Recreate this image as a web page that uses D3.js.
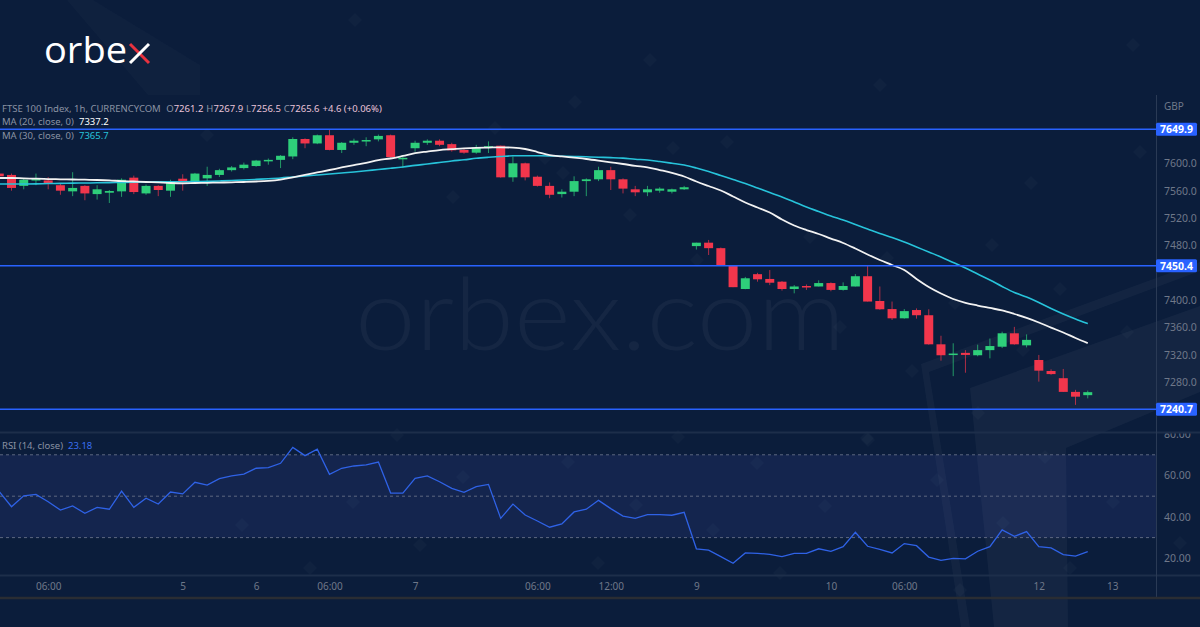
<!DOCTYPE html>
<html><head><meta charset="utf-8">
<script src="https://cdn.jsdelivr.net/npm/d3@7"></script>
<style>
html,body{margin:0;padding:0;background:#0b1d3b;}
svg{display:block;}
</style></head><body>
<svg id="c" width="1200" height="627"></svg>
<script>
// ---------- DATA ----------
const opens = [7585,7583,7567,7575,7575,7568,7559,7567,7555,7557,
7559,7579,7556,7567,7560,7577.5,7572,7578,7583,7590,
7593,7596,7603,7605,7610,7635.5,7629,7641,7619.5,7630,
7633,7635,7641,7607,7622,7630,7633,7628,7619.5,7615.5,
7623,7625.7,7579.5,7600,7580.4,7567,7555,7558.5,7574,7576.6,
7590,7576.6,7562,7557.6,7560,7558.5,7562,7479,7484,7476,
7450,7416.3,7438,7431,7427,7416.3,7420.7,7420,7425,7415,
7420,7435,7398.8,7387,7373.5,7385.6,7378,7335.5,7320,7323,
7319.5,7327,7332,7351.6,7334,7312.6,7296.5,7286,7266,7261.2];
const highs = [7587,7585,7578,7585,7580,7571,7587,7568,7568,7561,
7578,7582,7569,7568,7576,7584,7586,7595,7592,7596,
7601,7605,7607,7612,7638,7636.5,7642,7649,7631,7636,
7638,7642,7642,7610,7633,7635,7635,7630,7621,7627,
7632,7626,7610,7601,7582,7572,7562,7581,7578,7595,
7595,7578,7567,7567,7565,7563,7567,7484,7488,7477,
7451,7434,7440,7444,7428,7422,7423,7429,7426,7426,
7438,7450,7420,7398,7387,7388,7386.7,7348,7337,7327,
7335,7344,7354,7361,7350,7320,7299,7299.5,7269,7267.9];
const lows = [7578,7560,7562,7568,7562,7554,7552,7546,7547,7542,
7551,7555,7554,7552,7551,7560,7570,7567,7580,7588,
7591,7595,7598,7593,7606,7622,7628,7619,7615,7627,
7625,7632,7608,7593,7617,7627,7625,7617,7614,7614,
7615,7579,7573,7575,7566,7549,7550,7552,7552,7574,
7561,7556,7552,7552,7557,7556,7561,7474,7466,7451,
7419,7416,7427,7422,7414,7410,7415,7420,7413,7414,
7420,7398,7386,7371,7373,7373,7335,7311.6,7289,7294,
7318,7315,7330,7335,7331,7281,7291,7266,7247,7256.5];
const closes = [7581,7564,7576,7577,7570,7560,7564,7556,7562,7559.5,
7576,7558,7567,7561,7574,7572,7585,7583,7590,7594,
7598,7604,7605,7611,7635.5,7629,7641,7619.5,7630,7633,
7634,7640,7609,7608,7630,7633,7627,7619,7615.5,7623,
7625,7579.5,7600,7579.5,7567,7554,7558.5,7574,7576.6,7590,
7576.6,7563,7557.6,7562,7563,7562,7565,7484,7476,7451.4,
7419,7432,7430.5,7425.5,7416.3,7420,7419,7425,7415,7420.7,
7435,7398,7386.7,7373.5,7384,7378,7335.5,7319.5,7322,7320,
7327,7333,7351.6,7335.5,7342,7297,7292,7266,7259,7265.6];
const ma20 = [7578.5,7578.5,7578,7577.5,7577,7576.6,7576.3,7576,7575.6,7575,
7574,7573.4,7572.7,7572,7571.2,7570.8,7571.2,7571.5,7571.8,7572.2,
7572.7,7573.4,7574.4,7576.3,7579.5,7583,7586.6,7590.2,7593.9,7597.5,
7600.7,7604.8,7607,7610.7,7614.8,7617.2,7619.4,7620.6,7621.8,7622.6,
7623,7623.4,7622.9,7620.9,7616.5,7612,7610,7608.2,7606.3,7604,
7601.5,7599,7596.3,7594.2,7590.2,7586,7580.7,7573.4,7566.8,7560.3,
7551.5,7542.7,7535.4,7528.1,7517.9,7509.1,7502.5,7496.7,7490,7483.6,
7475.5,7466.8,7458.7,7451.4,7444,7431,7419.3,7409.8,7401.7,7396.2,
7392.2,7388.6,7385,7379.8,7374,7367.4,7360,7352.8,7344.7,7337.2];
const ma30 = [7569.8,7569.8,7569.8,7570,7570.4,7570.6,7571,7571.2,7571.5,7571.8,
7572,7572.4,7572.7,7573,7573.1,7573.1,7573.3,7573.6,7574.2,7574.9,
7575.6,7576.5,7577.4,7578.5,7580,7581.4,7582.9,7584.4,7585.8,7587.3,
7589,7591,7592.7,7594.6,7597,7599,7601.2,7603.4,7605.1,7607.3,
7608.8,7610,7611,7611.1,7611,7610.7,7610.4,7610,7609.5,7608.9,
7608.3,7607.5,7606,7604.8,7602.6,7600.1,7597.5,7593.1,7588,7582.2,
7576.3,7570.5,7563.9,7557.3,7550.8,7543.5,7536.1,7529.6,7523,7517.1,
7510.6,7504,7497.4,7491.6,7485,7477.7,7470.4,7463.1,7455,7447,
7438.2,7429.5,7420,7411.2,7404.6,7396.6,7387.8,7379.8,7372.5,7365.7];
const rsi = [52.2,44.9,50.2,50.9,47.3,43.3,45.3,41.7,44.6,43.7,
52.4,44.6,49,46.2,52,51.1,56.7,55.4,58.5,59.8,
60.7,63.5,63.8,65.9,73.6,69.6,72.7,60.6,63.5,64.6,
65.1,66.5,51.5,51.5,58.6,59.8,57,53.8,51.9,54.6,
55.7,39.3,46.2,40.9,38,35,36.6,42.4,43.7,48,
44,40.4,39.3,41.1,41.1,40.8,42.2,24.6,23.9,20.8,
17.6,22.6,22.4,21.9,20.8,22.4,22.4,24.6,23.4,25.6,
32.6,25.8,24.3,22.6,27.1,26.1,20.6,19,20,19.7,
23.4,25.6,33.7,30.6,32.9,25.6,25,21.8,21.1,23.18];
const timeTickIdx = [4,15,21,27,34,44,50,57,68,74,85,91];
const timeTickLabels = ["06:00","5","6","06:00","7","06:00","12:00","9","10","06:00","12","13"];
const priceTicks = [7600,7560,7520,7480,7400,7360,7320,7280];
const rsiTicks = [80,60,40,20];
const rsiLevels = [70,50,30];
const priceLines = [7649.9,7450.4,7240.7];

// ---------- LAYOUT ----------
const svg = d3.select('#c');
const AX = 1156;
const P_TOP = 95, P_BOT = 432.5, R_TOP = 433.5, R_BOT = 575.5, T_BOT = 597.5;
const x = d3.scaleLinear().domain([0,91]).range([-0.73,1112.2]);
const y = d3.scaleLinear().domain([7280,7600]).range([382.3,163.3]);
const yr = d3.scaleLinear().domain([20,80]).range([558.3,434.1]);

const GREEN = '#2ecf7a', RED = '#f2364c';
const FONT = '"Noto Sans", "Open Sans", sans-serif';

svg.append('rect').attr('width',1200).attr('height',627).attr('fill','#0b1d3b');

const deco = svg.append('g');
deco.append('polygon').attr('points','67,0 93,0 200,65 200,95 148,95').attr('fill','rgba(255,255,255,0.018)');
deco.append('polygon').attr('points','921,364 1200,262 1200,271 929,372 970,627 961,627').attr('fill','rgba(255,255,255,0.035)');
deco.append('polygon').attr('points','970,388 1200,306 1200,392 1066,448 1068,627 994,627').attr('fill','rgba(255,255,255,0.04)');
const diamonds = [[650,60],[880,85],[1133,45],[1140,152],[575,102],[727,142],[545,158],[1031,183],[355,20],
 [992,245],[1060,289],[955,303],[1127,332],[912,371],[868,440],[1045,457],[937,480],[1113,502],[1180,543],
 [1003,523],[1070,568],[960,590],[978,413],[397,435],[463,477],[353,502],[242,525],[420,545],[310,568],
 [678,437],[867,438],[568,462],[757,463],[636,505],[825,506],[713,530],[598,563],[780,573],[207,135],
 [495,128],[673,148],[563,173],[453,197],[630,215],[810,237],[887,258],[697,260],[840,327],[1023,350]];
deco.selectAll('rect.dm').data(diamonds).join('rect').attr('class','dm')
  .attr('x',-5).attr('y',-5).attr('width',10).attr('height',10)
  .attr('transform',d=>`translate(${d[0]},${d[1]}) rotate(45)`)
  .attr('fill','rgba(255,255,255,0.025)');

svg.append('text').attr('x',600).attr('y',350).attr('text-anchor','middle')
  .attr('font-family','Lato, "Open Sans", sans-serif').attr('font-weight',300)
  .attr('font-size',100).attr('fill','rgba(255,255,255,0.045)')
  .attr('textLength',490).attr('lengthAdjust','spacingAndGlyphs').text('orbex.com');

const defs = svg.append('defs');
defs.append('clipPath').attr('id','cp').append('rect').attr('x',0).attr('y',P_TOP).attr('width',AX).attr('height',P_BOT-P_TOP);
defs.append('clipPath').attr('id','cr').append('rect').attr('x',0).attr('y',R_TOP).attr('width',AX).attr('height',R_BOT-R_TOP);
defs.append('clipPath').attr('id','cra').append('rect').attr('x',AX).attr('y',R_TOP).attr('width',50).attr('height',R_BOT-R_TOP);

// ---------- PRICE PANE ----------
const pp = svg.append('g').attr('clip-path','url(#cp)');
const idx = d3.range(opens.length);
const BW = 9;
pp.selectAll('line.wick').data(idx).join('line').attr('class','wick')
  .attr('x1',i=>x(i)).attr('x2',i=>x(i))
  .attr('y1',i=>y(highs[i])).attr('y2',i=>y(lows[i]))
  .attr('stroke',i=>closes[i]>=opens[i]?GREEN:RED).attr('stroke-opacity',0.7).attr('stroke-width',1);
pp.selectAll('rect.body').data(idx).join('rect').attr('class','body')
  .attr('x',i=>x(i)-BW/2).attr('width',BW)
  .attr('y',i=>y(Math.max(opens[i],closes[i])))
  .attr('height',i=>Math.max(1.5,Math.abs(y(opens[i])-y(closes[i]))))
  .attr('fill',i=>closes[i]>=opens[i]?GREEN:RED);

const lineGen = arr => d3.line().x((d,i)=>x(i)).y(d=>y(d)).curve(d3.curveMonotoneX)(arr);
pp.append('path').attr('d',lineGen(ma30)).attr('fill','none').attr('stroke','#27c3da').attr('stroke-width',1.6);
pp.append('path').attr('d',lineGen(ma20)).attr('fill','none').attr('stroke','#f2f2f2').attr('stroke-width',1.8);

pp.selectAll('line.pl').data(priceLines).join('line').attr('class','pl')
  .attr('x1',0).attr('x2',AX).attr('y1',d=>y(d)).attr('y2',d=>y(d))
  .attr('stroke','#2962ff').attr('stroke-width',1.5);

// ---------- RSI PANE ----------
const rp = svg.append('g').attr('clip-path','url(#cr)');
rp.append('rect').attr('x',0).attr('width',AX).attr('y',yr(70)).attr('height',yr(30)-yr(70))
  .attr('fill','rgba(80,95,200,0.14)');
rp.selectAll('line.lv').data(rsiLevels).join('line').attr('class','lv')
  .attr('x1',0).attr('x2',AX).attr('y1',d=>yr(d)).attr('y2',d=>yr(d))
  .attr('stroke','#5d6780').attr('stroke-width',1).attr('stroke-dasharray','3,3');
rp.append('path').attr('d',d3.line().x((d,i)=>x(i)).y(d=>yr(d))(rsi))
  .attr('fill','none').attr('stroke','#2f62e6').attr('stroke-width',1.3);

svg.append('line').attr('x1',0).attr('x2',1200).attr('y1',P_BOT).attr('y2',P_BOT).attr('stroke','#1d2e4a').attr('stroke-width',2);
svg.append('line').attr('x1',0).attr('x2',1200).attr('y1',R_BOT).attr('y2',R_BOT).attr('stroke','#1d2e4a').attr('stroke-width',2);
svg.append('line').attr('x1',AX+0.5).attr('x2',AX+0.5).attr('y1',P_TOP).attr('y2',T_BOT).attr('stroke','#2a3a55').attr('stroke-width',1);
svg.append('line').attr('x1',0).attr('x2',1200).attr('y1',T_BOT+0.5).attr('y2',T_BOT+0.5).attr('stroke','#2a2d33').attr('stroke-width',2.5);

// ---------- AXES ----------
const axCol = '#6f7889';
const pa = svg.append('g').attr('transform',`translate(${AX},0)`)
  .call(d3.axisRight(y).tickValues(priceTicks).tickFormat(d=>d.toFixed(1)).tickSize(0).tickPadding(8));
pa.select('.domain').remove();
pa.selectAll('text').attr('fill',axCol).attr('font-family',FONT).attr('font-size',10.5);

const ra = svg.append('g').attr('clip-path','url(#cra)').append('g').attr('transform',`translate(${AX},0)`)
  .call(d3.axisRight(yr).tickValues(rsiTicks).tickFormat(d=>d.toFixed(2)).tickSize(0).tickPadding(8));
ra.select('.domain').remove();
ra.selectAll('text').attr('fill',axCol).attr('font-family',FONT).attr('font-size',10.5);

const ta = svg.append('g').attr('transform',`translate(0,${R_BOT})`)
  .call(d3.axisBottom(x).tickValues(timeTickIdx).tickFormat((d,i)=>timeTickLabels[i]).tickSize(0).tickPadding(7));
ta.select('.domain').remove();
ta.selectAll('text').attr('fill',axCol).attr('font-family',FONT).attr('font-size',10);

svg.append('text').attr('x',1164).attr('y',110).attr('fill',axCol).attr('font-family',FONT).attr('font-size',10).text('GBP');

const pl = svg.selectAll('g.pll').data(priceLines).join('g').attr('class','pll')
  .attr('transform',d=>`translate(${AX},${y(d)})`);
pl.append('rect').attr('x',0).attr('y',-6.5).attr('width',41).attr('height',13).attr('rx',1.5).attr('fill','#2962ff');
pl.append('text').attr('x',20.5).attr('y',4).attr('text-anchor','middle').attr('fill','#ffffff')
  .attr('font-family',FONT).attr('font-weight',700).attr('font-size',10.5).text(d=>d.toFixed(1));

// ---------- LEGENDS ----------
const gray = '#8a92a3', val = '#e9c3d9';
const l1 = svg.append('text').attr('x',2).attr('y',112).attr('font-family',FONT).attr('font-size',9.5).attr('fill',gray);
const last = opens.length-1;
l1.append('tspan').text('FTSE 100 Index, 1h, CURRENCYCOM ');
[['O',opens[last]],['H',highs[last]],['L',lows[last]],['C',closes[last]]].forEach(([k,v])=>{
  l1.append('tspan').attr('dx',3).text(k);
  l1.append('tspan').attr('fill',val).text(v.toFixed(1));
});
l1.append('tspan').attr('dx',3).attr('fill',val).text('+4.6 (+0.06%)');

const l2 = svg.append('text').attr('x',2).attr('y',125).attr('font-family',FONT).attr('font-size',9.5).attr('fill',gray);
l2.append('tspan').text('MA (20, close, 0)');
l2.append('tspan').attr('x',79).attr('fill','#ffffff').text(ma20[last].toFixed(1));
const l3 = svg.append('text').attr('x',2).attr('y',139).attr('font-family',FONT).attr('font-size',9.5).attr('fill',gray);
l3.append('tspan').text('MA (30, close, 0)');
l3.append('tspan').attr('x',79).attr('fill','#27c3da').text(ma30[last].toFixed(1));
const l4 = svg.append('text').attr('x',2).attr('y',449).attr('font-family',FONT).attr('font-size',9.5).attr('fill',gray);
l4.append('tspan').text('RSI (14, close)');
l4.append('tspan').attr('x',68).attr('fill','#3a6ff0').text(rsi[last].toFixed(2));

// ---------- LOGO ----------
const logo = svg.append('g');
logo.append('text').attr('x',44).attr('y',63).attr('font-family','"Open Sans", sans-serif').attr('font-weight',500)
  .attr('font-size',37).attr('fill','#ffffff').attr('textLength',83).attr('lengthAdjust','spacingAndGlyphs').text('orbe');
logo.append('line').attr('x1',130).attr('y1',44).attr('x2',149).attr('y2',63).attr('stroke','#e8323f').attr('stroke-width',3);
logo.append('line').attr('x1',149).attr('y1',44).attr('x2',130).attr('y2',63).attr('stroke','#ffffff').attr('stroke-width',3);
</script>
</body></html>
